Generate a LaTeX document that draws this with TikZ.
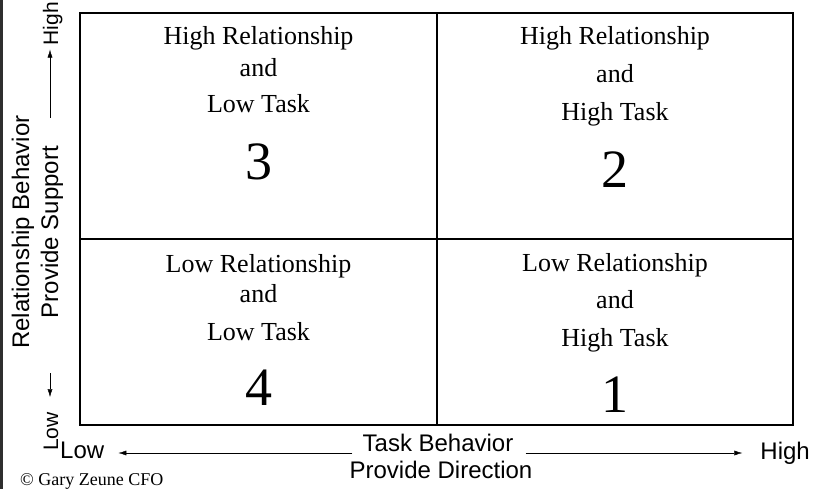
\documentclass[tikz,border=0pt]{standalone}
\usepackage{fontspec}
\setmainfont{Liberation Serif}
\newfontfamily\axisfont{Liberation Sans}
\usetikzlibrary{arrows.meta}
\newcommand{\axisarrow}{-{Latex[length=8pt,width=5pt]}}

\begin{document}
\begin{tikzpicture}[x=1pt,y=-1pt,
	cell/.style={anchor=base,inner sep=0pt,font=\fontsize{26}{30}\selectfont},
	num/.style={anchor=base,inner sep=0pt,font=\fontsize{54}{58}\selectfont},
	axis/.style={inner sep=0pt,font=\axisfont\fontsize{24}{28}\selectfont},
	end/.style={inner sep=0pt,font=\axisfont\fontsize{21}{24}\selectfont},
	]
					\useasboundingbox (0,0) rectangle (816,489);
					\fill[black!82] (0,0) rectangle (2.5,489);
					\draw[line width=2.8pt] (80,13) rectangle (793,425);
					\draw[line width=1.8pt] (437,13) -- (437,425);
					\draw[line width=1.8pt] (80,239) -- (793,239);
					\node[cell] (q3a) at (258.5,45) {High Relationship};
					\node[cell] (q3b) at (258.5,77) {and};
					\node[cell] (q3c) at (258.5,113) {Low Task};
					\node[num] (q3) at (258.5,180) {3};
					\node[cell] (q2a) at (615,45) {High Relationship};
					\node[cell] (q2b) at (615,83) {and};
					\node[cell] (q2c) at (615,121) {High Task};
					\node[num] (q2) at (615,188) {2};
					\node[cell] (q4a) at (258.5,272) {Low Relationship};
					\node[cell] (q4b) at (258.5,302) {and};
					\node[cell] (q4c) at (258.5,340) {Low Task};
					\node[num] (q4) at (258.5,405) {4};
					\node[cell] (q1a) at (615,271) {Low Relationship};
					\node[cell] (q1b) at (615,308) {and};
					\node[cell] (q1c) at (615,346) {High Task};
					\node[num] (q1) at (615,412) {1};
					\node[axis,anchor=base west] (lowx) at (60,458) {Low};
					\node[axis,anchor=base east] (highx) at (810,459) {High};
					\node[axis,anchor=base] (taskx) at (438,451) {Task Behavior};
					\node[axis,anchor=base] (dirx) at (441,478) {Provide Direction};
					\node[axis,anchor=base,rotate=90] (rely) at (29,232) {Relationship Behavior};
					\node[axis,anchor=base,rotate=90] (supy) at (58,232) {Provide Support};
					\node[end,anchor=base west,rotate=90] (lowy) at (58,451) {Low};
					\node[end,anchor=base east,rotate=90] (highy) at (58,2) {High};
					\draw[\axisarrow,shorten <=10pt,shorten >=14pt] (taskx.west |- 0,453) -- (lowx.east |- 0,453);
					\draw[\axisarrow,shorten <=12pt,shorten >=18pt] (taskx.east |- 0,453) -- (highx.west |- 0,453);
					\draw[\axisarrow,shorten <=28pt,shorten >=4pt] (50,0 |- supy.east) -- (50,0 |- highy.west);
					\draw[\axisarrow,shorten <=55pt,shorten >=15pt] (50,0 |- supy.west) -- (50,0 |- lowy.east);
					\node[anchor=base west,inner sep=0pt,font=\fontsize{18}{20}\selectfont] (copy) at (20,485) {\textcopyright{} Gary Zeune CFO};
				\end{tikzpicture}
\end{document}
